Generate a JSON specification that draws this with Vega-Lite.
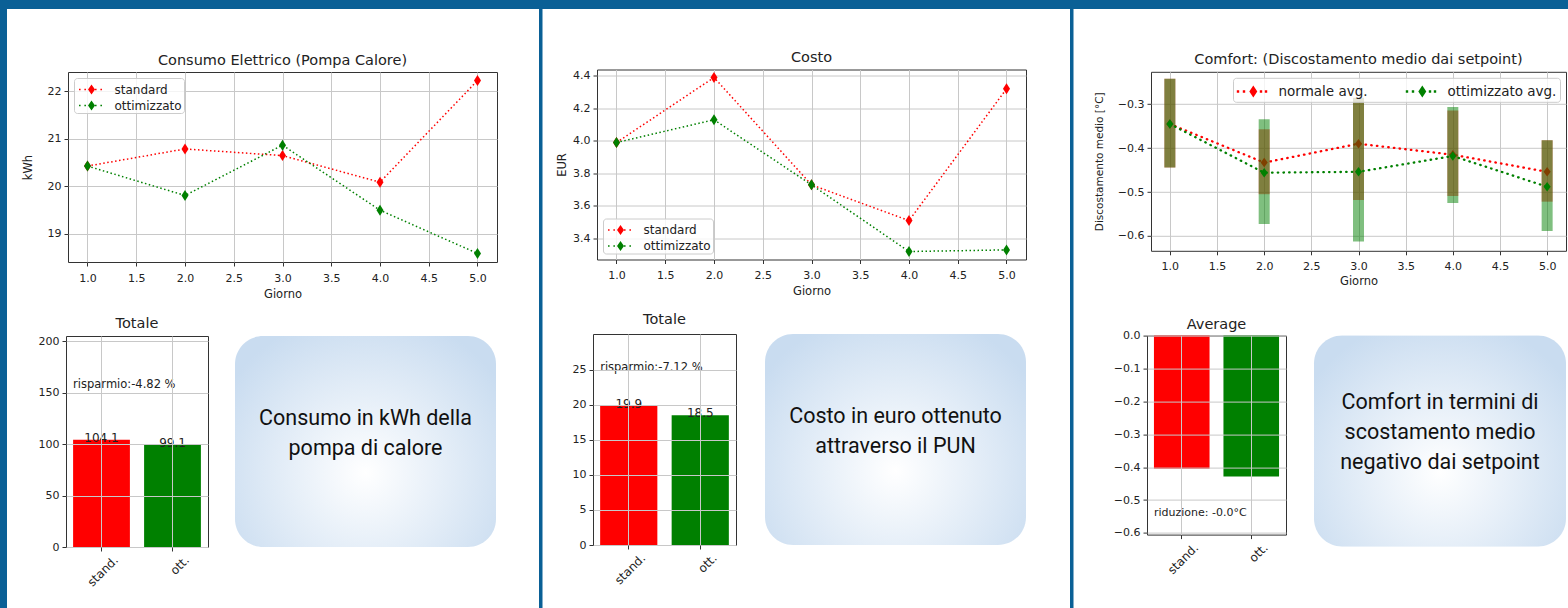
{
"$schema": "https://vega.github.io/schema/vega-lite/v6.json",
"background": "#ffffff",
"padding": 0,
"spacing": 0,
"config": {
  "view": {"stroke": "#333333", "strokeWidth": 1},
  "font": "DejaVu Sans",
  "title": {"font": "DejaVu Sans", "fontSize": 14.5, "fontWeight": "normal", "color": "#222222", "anchor": "middle"},
  "axis": {"labelFont": "DejaVu Sans", "labelFontSize": 11, "labelColor": "#222222", "titleFont": "DejaVu Sans", "titleFontSize": 11.5, "titleFontWeight": "normal", "titleColor": "#222222", "tickColor": "#333333", "tickSize": 4, "labelPadding": 3, "domain": false, "grid": true, "gridColor": "#c8c8c8", "labelFlush": false, "labelOverlap": false},
  "axisX": {"labelPadding": 6},
  "text": {"color": "#222222"}
},
"datasets": {
  "consumo": [
    {"giorno": 1, "serie": "standard", "kWh": 20.43},
    {"giorno": 2, "serie": "standard", "kWh": 20.79},
    {"giorno": 3, "serie": "standard", "kWh": 20.65},
    {"giorno": 4, "serie": "standard", "kWh": 20.09},
    {"giorno": 5, "serie": "standard", "kWh": 22.23},
    {"giorno": 1, "serie": "ottimizzato", "kWh": 20.43},
    {"giorno": 2, "serie": "ottimizzato", "kWh": 19.81},
    {"giorno": 3, "serie": "ottimizzato", "kWh": 20.87},
    {"giorno": 4, "serie": "ottimizzato", "kWh": 19.50},
    {"giorno": 5, "serie": "ottimizzato", "kWh": 18.59}
  ],
  "costo": [
    {"giorno": 1, "serie": "standard", "EUR": 3.99},
    {"giorno": 2, "serie": "standard", "EUR": 4.39},
    {"giorno": 3, "serie": "standard", "EUR": 3.73},
    {"giorno": 4, "serie": "standard", "EUR": 3.51},
    {"giorno": 5, "serie": "standard", "EUR": 4.32},
    {"giorno": 1, "serie": "ottimizzato", "EUR": 3.99},
    {"giorno": 2, "serie": "ottimizzato", "EUR": 4.13},
    {"giorno": 3, "serie": "ottimizzato", "EUR": 3.73},
    {"giorno": 4, "serie": "ottimizzato", "EUR": 3.32},
    {"giorno": 5, "serie": "ottimizzato", "EUR": 3.33}
  ],
  "comfort": [
    {"giorno": 1, "serie": "normale avg.", "avg": -0.345, "lo": -0.444, "hi": -0.242},
    {"giorno": 2, "serie": "normale avg.", "avg": -0.433, "lo": -0.505, "hi": -0.357},
    {"giorno": 3, "serie": "normale avg.", "avg": -0.390, "lo": -0.518, "hi": -0.285},
    {"giorno": 4, "serie": "normale avg.", "avg": -0.415, "lo": -0.509, "hi": -0.314},
    {"giorno": 5, "serie": "normale avg.", "avg": -0.454, "lo": -0.522, "hi": -0.382},
    {"giorno": 1, "serie": "ottimizzato avg.", "avg": -0.345, "lo": -0.444, "hi": -0.242},
    {"giorno": 2, "serie": "ottimizzato avg.", "avg": -0.456, "lo": -0.573, "hi": -0.334},
    {"giorno": 3, "serie": "ottimizzato avg.", "avg": -0.454, "lo": -0.613, "hi": -0.285},
    {"giorno": 4, "serie": "ottimizzato avg.", "avg": -0.418, "lo": -0.525, "hi": -0.306},
    {"giorno": 5, "serie": "ottimizzato avg.", "avg": -0.488, "lo": -0.589, "hi": -0.382}
  ],
  "tot_consumo": [{"cat": "stand.", "valore": 104.1}, {"cat": "ott.", "valore": 99.1}],
  "tot_costo": [{"cat": "stand.", "valore": 19.9}, {"cat": "ott.", "valore": 18.5}],
  "avg_comfort": [{"cat": "stand.", "valore": -0.405}, {"cat": "ott.", "valore": -0.428}]
},
"resolve": {"scale": {"color": "independent"}, "legend": {"color": "independent"}},
"vconcat": [
  {"width": 1568, "height": 9, "view": {"stroke": null}, "data": {"values": [{}]}, "mark": {"type": "rect", "color": "#0a6096"}, "encoding": {}},
  {"spacing": 0,
   "resolve": {"scale": {"color": "independent"}, "legend": {"color": "independent"}},
   "hconcat": [
    {"width": 7, "height": 599, "view": {"stroke": null}, "data": {"values": [{}]}, "mark": {"type": "rect", "color": "#0a6096"}, "encoding": {}},
    {"spacing": 15,
     "resolve": {"scale": {"color": "independent"}, "legend": {"color": "independent"}},
     "vconcat": [
      {"width": 532, "height": 27.5, "view": {"stroke": null}, "data": {"values": [{}]}, "mark": {"type": "rect", "opacity": 0}, "encoding": {}},
      {"spacing": 0,
       "resolve": {"scale": {"color": "independent"}, "legend": {"color": "independent"}},
       "hconcat": [
        {"width": 14, "height": 10, "view": {"stroke": null}, "data": {"values": [{}]}, "mark": {"type": "rect", "opacity": 0}, "encoding": {}},
        {"width": 429, "height": 190,
         "title": {"text": "Consumo Elettrico (Pompa Calore)", "offset": 4},
         "data": {"name": "consumo"},
         "encoding": {
           "x": {"field": "giorno", "type": "quantitative", "scale": {"domain": [0.8, 5.2], "nice": false, "zero": false}, "axis": {"values": [1, 1.5, 2, 2.5, 3, 3.5, 4, 4.5, 5], "format": ".1f", "title": "Giorno", "titlePadding": 5}},
           "y": {"field": "kWh", "type": "quantitative", "scale": {"domain": [18.41, 22.41], "nice": false, "zero": false}, "axis": {"values": [19, 20, 21, 22], "title": "kWh", "titlePadding": 14}}
         },
         "layer": [
          {"transform": [{"filter": "datum.serie === 'standard'"}], "mark": {"type": "line", "color": "#ff0000", "strokeDash": [1.5, 2.5], "strokeWidth": 1.5}},
          {"transform": [{"filter": "datum.serie === 'ottimizzato'"}], "mark": {"type": "line", "color": "#008000", "strokeDash": [1.5, 2.5], "strokeWidth": 1.5}},
          {"mark": {"type": "point", "shape": "M0,-1L0.64,0L0,1L-0.64,0Z", "filled": true, "size": 121, "opacity": 1},
           "encoding": {"color": {"field": "serie", "type": "nominal", "scale": {"domain": ["standard", "ottimizzato"], "range": ["#ff0000", "#008000"]},
             "legend": {"title": null, "orient": "top-left", "offset": 6, "fillColor": "rgba(255,255,255,0.8)", "strokeColor": "#cccccc", "cornerRadius": 3, "padding": 1.5, "rowPadding": 0, "symbolType": "M-0.665,-0.08h0.16v0.16h-0.16z M-0.115,-0.08h0.16v0.16h-0.16z M0.975,-0.08h0.16v0.16h-0.16z M1.53,-0.08h0.16v0.16h-0.16z M0.617,-0.51L0.977,0L0.617,0.51L0.257,0z", "symbolSize": 380, "symbolStrokeWidth": 0, "labelFont": "DejaVu Sans", "labelFontSize": 12, "labelColor": "#222222", "labelOffset": 19}}}}
         ]}
       ]},
      {"spacing": 0,
       "resolve": {"scale": {"color": "independent"}, "legend": {"color": "independent"}},
       "hconcat": [
        {"width": 30, "height": 10, "view": {"stroke": null}, "data": {"values": [{}]}, "mark": {"type": "rect", "opacity": 0}, "encoding": {}},
        {"width": 142, "height": 211,
         "title": {"text": "Totale", "offset": 3.5},
         "encoding": {
           "x": {"field": "cat", "type": "nominal", "sort": null, "scale": {"domain": ["stand.", "ott."], "paddingInner": 0.2, "paddingOuter": 0.1}, "axis": {"title": null, "labelAngle": -45, "labelAlign": "right", "labelBaseline": "top", "labelOffset": 11, "labelPadding": 3, "labelFontSize": 12, "bandPosition": 0.5, "zindex": 1}}
         },
         "layer": [
          {"data": {"name": "tot_consumo"}, "mark": {"type": "bar"},
           "encoding": {
             "y": {"field": "valore", "type": "quantitative", "scale": {"domain": [0, 205], "nice": false}, "axis": {"title": null, "values": [0, 50, 100, 150, 200], "zindex": 1}},
             "color": {"field": "cat", "type": "nominal", "scale": {"domain": ["stand.", "ott."], "range": ["#ff0000", "#008000"]}, "legend": null}}},
          {"data": {"name": "tot_consumo"}, "mark": {"type": "text", "baseline": "alphabetic", "dy": 2, "fontSize": 12},
           "encoding": {
             "y": {"field": "valore", "type": "quantitative", "axis": {"title": null, "values": [0, 50, 100, 150, 200], "zindex": 1}},
             "text": {"field": "valore", "type": "quantitative", "format": ".1f"}}},
          {"data": {"values": [{"cat": "stand.", "testo": "risparmio:-4.82 %"}]}, "mark": {"type": "text", "align": "left", "baseline": "middle", "fontSize": 11.5},
           "encoding": {
             "x": {"field": "cat", "type": "nominal", "sort": null, "bandPosition": 0},
             "y": {"datum": 157, "type": "quantitative", "axis": {"title": null, "values": [0, 50, 100, 150, 200], "zindex": 1}},
             "text": {"field": "testo", "type": "nominal"}}}
         ]},
        {"width": 26, "height": 10, "view": {"stroke": null}, "data": {"values": [{}]}, "mark": {"type": "rect", "opacity": 0}, "encoding": {}},
        {"width": 261, "height": 211, "view": {"stroke": null},
         "data": {"values": [{"testo": "Consumo in kWh della\npompa di calore"}]},
         "layer": [
          {"mark": {"type": "rect", "cornerRadius": 28, "fill": {"gradient": "radial", "x1": 0.5, "y1": 0.62, "r1": 0, "x2": 0.5, "y2": 0.62, "r2": 0.62, "stops": [{"offset": 0, "color": "#ffffff"}, {"offset": 1, "color": "#c9dcf0"}]}}, "encoding": {}},
          {"mark": {"type": "text", "lineBreak": "\n", "font": "Roboto", "fontSize": 21.5, "lineHeight": 30, "align": "center", "baseline": "middle", "dy": -23, "color": "#111111"}, "encoding": {"text": {"field": "testo", "type": "nominal"}}}
         ]}
       ]}
     ]},
    {"width": 3.5, "height": 599, "view": {"stroke": null}, "data": {"values": [{}]}, "mark": {"type": "rect", "color": "#0a6096"}, "encoding": {}},
    {"spacing": 13.5,
     "resolve": {"scale": {"color": "independent"}, "legend": {"color": "independent"}},
     "vconcat": [
      {"width": 526.5, "height": 27, "view": {"stroke": null}, "data": {"values": [{}]}, "mark": {"type": "rect", "opacity": 0}, "encoding": {}},
      {"spacing": 0,
       "resolve": {"scale": {"color": "independent"}, "legend": {"color": "independent"}},
       "hconcat": [
        {"width": 12.5, "height": 10, "view": {"stroke": null}, "data": {"values": [{}]}, "mark": {"type": "rect", "opacity": 0}, "encoding": {}},
        {"width": 429, "height": 190,
         "title": {"text": "Costo", "offset": 4},
         "data": {"name": "costo"},
         "encoding": {
           "x": {"field": "giorno", "type": "quantitative", "scale": {"domain": [0.8, 5.2], "nice": false, "zero": false}, "axis": {"values": [1, 1.5, 2, 2.5, 3, 3.5, 4, 4.5, 5], "format": ".1f", "title": "Giorno", "titlePadding": 5}},
           "y": {"field": "EUR", "type": "quantitative", "scale": {"domain": [3.271, 4.439], "nice": false, "zero": false}, "axis": {"values": [3.4, 3.6, 3.8, 4.0, 4.2, 4.4], "format": ".1f", "title": "EUR", "titlePadding": 5}}
         },
         "layer": [
          {"transform": [{"filter": "datum.serie === 'standard'"}], "mark": {"type": "line", "color": "#ff0000", "strokeDash": [1.5, 2.5], "strokeWidth": 1.5}},
          {"transform": [{"filter": "datum.serie === 'ottimizzato'"}], "mark": {"type": "line", "color": "#008000", "strokeDash": [1.5, 2.5], "strokeWidth": 1.5}},
          {"mark": {"type": "point", "shape": "M0,-1L0.64,0L0,1L-0.64,0Z", "filled": true, "size": 121, "opacity": 1},
           "encoding": {"color": {"field": "serie", "type": "nominal", "scale": {"domain": ["standard", "ottimizzato"], "range": ["#ff0000", "#008000"]},
             "legend": {"title": null, "orient": "bottom-left", "offset": 6, "fillColor": "rgba(255,255,255,0.8)", "strokeColor": "#cccccc", "cornerRadius": 3, "padding": 1.5, "rowPadding": 0, "symbolType": "M-0.665,-0.08h0.16v0.16h-0.16z M-0.115,-0.08h0.16v0.16h-0.16z M0.975,-0.08h0.16v0.16h-0.16z M1.53,-0.08h0.16v0.16h-0.16z M0.617,-0.51L0.977,0L0.617,0.51L0.257,0z", "symbolSize": 380, "symbolStrokeWidth": 0, "labelFont": "DejaVu Sans", "labelFontSize": 12, "labelColor": "#222222", "labelOffset": 19}}}}
         ]}
       ]},
      {"spacing": 0,
       "resolve": {"scale": {"color": "independent"}, "legend": {"color": "independent"}},
       "hconcat": [
        {"width": 27.5, "height": 10, "view": {"stroke": null}, "data": {"values": [{}]}, "mark": {"type": "rect", "opacity": 0}, "encoding": {}},
        {"width": 143, "height": 211,
         "title": {"text": "Totale", "offset": 7},
         "encoding": {
           "x": {"field": "cat", "type": "nominal", "sort": null, "scale": {"domain": ["stand.", "ott."], "paddingInner": 0.2, "paddingOuter": 0.1}, "axis": {"title": null, "labelAngle": -45, "labelAlign": "right", "labelBaseline": "top", "labelOffset": 11, "labelPadding": 3, "labelFontSize": 12, "bandPosition": 0.5, "zindex": 1}}
         },
         "layer": [
          {"data": {"name": "tot_costo"}, "mark": {"type": "bar"},
           "encoding": {
             "y": {"field": "valore", "type": "quantitative", "scale": {"domain": [0, 30.1], "nice": false}, "axis": {"title": null, "values": [0, 5, 10, 15, 20, 25], "zindex": 1}},
             "color": {"field": "cat", "type": "nominal", "scale": {"domain": ["stand.", "ott."], "range": ["#ff0000", "#008000"]}, "legend": null}}},
          {"data": {"name": "tot_costo"}, "mark": {"type": "text", "baseline": "alphabetic", "dy": 2, "fontSize": 12},
           "encoding": {
             "y": {"field": "valore", "type": "quantitative", "axis": {"title": null, "values": [0, 5, 10, 15, 20, 25], "zindex": 1}},
             "text": {"field": "valore", "type": "quantitative", "format": ".1f"}}},
          {"data": {"values": [{"cat": "stand.", "testo": "risparmio:-7.12 %"}]}, "mark": {"type": "text", "align": "left", "baseline": "middle", "fontSize": 11.5},
           "encoding": {
             "x": {"field": "cat", "type": "nominal", "sort": null, "bandPosition": 0},
             "y": {"datum": 25.3, "type": "quantitative", "axis": {"title": null, "values": [0, 5, 10, 15, 20, 25], "zindex": 1}},
             "text": {"field": "testo", "type": "nominal"}}}
         ]},
        {"width": 28, "height": 10, "view": {"stroke": null}, "data": {"values": [{}]}, "mark": {"type": "rect", "opacity": 0}, "encoding": {}},
        {"width": 261, "height": 211, "view": {"stroke": null},
         "data": {"values": [{"testo": "Costo in euro ottenuto\nattraverso il PUN"}]},
         "layer": [
          {"mark": {"type": "rect", "cornerRadius": 28, "fill": {"gradient": "radial", "x1": 0.5, "y1": 0.62, "r1": 0, "x2": 0.5, "y2": 0.62, "r2": 0.62, "stops": [{"offset": 0, "color": "#ffffff"}, {"offset": 1, "color": "#c9dcf0"}]}}, "encoding": {}},
          {"mark": {"type": "text", "lineBreak": "\n", "font": "Roboto", "fontSize": 21.5, "lineHeight": 30, "align": "center", "baseline": "middle", "dy": -23, "color": "#111111"}, "encoding": {"text": {"field": "testo", "type": "nominal"}}}
         ]}
       ]}
     ]},
    {"width": 3.5, "height": 599, "view": {"stroke": null}, "data": {"values": [{}]}, "mark": {"type": "rect", "color": "#0a6096"}, "encoding": {}},
    {"spacing": 27.8,
     "resolve": {"scale": {"color": "independent"}, "legend": {"color": "independent"}},
     "vconcat": [
      {"width": 495.5, "height": 14.1, "view": {"stroke": null}, "data": {"values": [{}]}, "mark": {"type": "rect", "opacity": 0}, "encoding": {}},
      {"spacing": 0,
       "resolve": {"scale": {"color": "independent"}, "legend": {"color": "independent"}},
       "hconcat": [
        {"width": 19, "height": 10, "view": {"stroke": null}, "data": {"values": [{}]}, "mark": {"type": "rect", "opacity": 0}, "encoding": {}},
        {"width": 415, "height": 179,
         "title": {"text": "Comfort: (Discostamento medio dai setpoint)", "offset": 4},
         "data": {"name": "comfort"},
         "encoding": {
           "x": {"field": "giorno", "type": "quantitative", "scale": {"domain": [0.8, 5.2], "nice": false, "zero": false}, "axis": {"values": [1, 1.5, 2, 2.5, 3, 3.5, 4, 4.5, 5], "format": ".1f", "title": "Giorno", "titlePadding": 4}},
           "y": {"field": "avg", "type": "quantitative", "scale": {"domain": [-0.634, -0.226], "nice": false, "zero": false}, "axis": {"values": [-0.6, -0.5, -0.4, -0.3], "format": ".1f", "title": "Discostamento medio [°C]", "titleFontSize": 10.5, "titlePadding": 13}}
         },
         "layer": [
          {"transform": [{"filter": "datum.serie === 'normale avg.'"}],
           "mark": {"type": "line", "color": "#ff0000", "strokeDash": [0.5, 5.2], "strokeCap": "round", "strokeWidth": 2.3}},
          {"transform": [{"filter": "datum.serie === 'normale avg.'"}],
           "mark": {"type": "point", "shape": "M0,-1L0.75,0L0,1L-0.75,0Z", "filled": true, "size": 90, "opacity": 1},
           "encoding": {"color": {"field": "serie", "type": "nominal", "scale": {"domain": ["normale avg.", "ottimizzato avg."], "range": ["#ff0000", "#008000"]},
             "legend": {"title": null, "orient": "top-right", "offset": 6, "direction": "horizontal", "fillColor": "rgba(255,255,255,0.8)", "strokeColor": "#cccccc", "cornerRadius": 3, "padding": 3.5, "columnPadding": 37, "symbolType": "M-0.97,-0.12h0.24v0.24h-0.24z M-0.37,-0.12h0.24v0.24h-0.24z M1.33,-0.12h0.24v0.24h-0.24z M1.83,-0.12h0.24v0.24h-0.24z M0.68,-0.6L1.08,0L0.68,0.6L0.28,0z", "symbolSize": 400, "symbolStrokeWidth": 0, "labelFont": "DejaVu Sans", "labelFontSize": 13.5, "labelColor": "#222222", "labelOffset": 22}}}},
          {"transform": [{"filter": "datum.serie === 'normale avg.'"}],
           "mark": {"type": "rule", "color": "#ff0000", "opacity": 0.5, "strokeWidth": 11},
           "encoding": {"y": {"field": "lo", "type": "quantitative", "axis": {"values": [-0.6, -0.5, -0.4, -0.3], "format": ".1f", "title": "Discostamento medio [°C]", "titleFontSize": 10.5, "titlePadding": 13}}, "y2": {"field": "hi"}}},
          {"transform": [{"filter": "datum.serie === 'ottimizzato avg.'"}],
           "mark": {"type": "line", "color": "#008000", "strokeDash": [0.5, 5.2], "strokeCap": "round", "strokeWidth": 2.3}},
          {"transform": [{"filter": "datum.serie === 'ottimizzato avg.'"}],
           "mark": {"type": "point", "shape": "M0,-1L0.75,0L0,1L-0.75,0Z", "filled": true, "size": 90, "opacity": 1},
           "encoding": {"color": {"field": "serie", "type": "nominal", "scale": {"domain": ["normale avg.", "ottimizzato avg."], "range": ["#ff0000", "#008000"]},
             "legend": {"title": null, "orient": "top-right", "offset": 6, "direction": "horizontal", "fillColor": "rgba(255,255,255,0.8)", "strokeColor": "#cccccc", "cornerRadius": 3, "padding": 3.5, "columnPadding": 37, "symbolType": "M-0.97,-0.12h0.24v0.24h-0.24z M-0.37,-0.12h0.24v0.24h-0.24z M1.33,-0.12h0.24v0.24h-0.24z M1.83,-0.12h0.24v0.24h-0.24z M0.68,-0.6L1.08,0L0.68,0.6L0.28,0z", "symbolSize": 400, "symbolStrokeWidth": 0, "labelFont": "DejaVu Sans", "labelFontSize": 13.5, "labelColor": "#222222", "labelOffset": 22}}}},
          {"transform": [{"filter": "datum.serie === 'ottimizzato avg.'"}],
           "mark": {"type": "rule", "color": "#008000", "opacity": 0.5, "strokeWidth": 11},
           "encoding": {"y": {"field": "lo", "type": "quantitative", "axis": {"values": [-0.6, -0.5, -0.4, -0.3], "format": ".1f", "title": "Discostamento medio [°C]", "titleFontSize": 10.5, "titlePadding": 13}}, "y2": {"field": "hi"}}}
         ]}
       ]},
      {"spacing": 0,
       "resolve": {"scale": {"color": "independent"}, "legend": {"color": "independent"}},
       "hconcat": [
        {"width": 37.8, "height": 10, "view": {"stroke": null}, "data": {"values": [{}]}, "mark": {"type": "rect", "opacity": 0}, "encoding": {}},
        {"width": 139, "height": 199,
         "title": {"text": "Average", "offset": -2.5},
         "encoding": {
           "x": {"field": "cat", "type": "nominal", "sort": null, "scale": {"domain": ["stand.", "ott."], "paddingInner": 0.2, "paddingOuter": 0.1}, "axis": {"title": null, "labelAngle": -45, "labelAlign": "right", "labelBaseline": "top", "labelOffset": 11, "labelPadding": 3, "labelFontSize": 12, "bandPosition": 0.5, "zindex": 1}}
         },
         "layer": [
          {"data": {"name": "avg_comfort"}, "mark": {"type": "bar"},
           "encoding": {
             "y": {"field": "valore", "type": "quantitative", "scale": {"domain": [-0.605, 0], "nice": false, "zero": false}, "axis": {"title": null, "values": [0, -0.1, -0.2, -0.3, -0.4, -0.5, -0.6], "format": ".1f", "zindex": 1}},
             "color": {"field": "cat", "type": "nominal", "scale": {"domain": ["stand.", "ott."], "range": ["#ff0000", "#008000"]}, "legend": null}}},
          {"data": {"values": [{"cat": "stand.", "testo": "riduzione: -0.0°C"}]}, "mark": {"type": "text", "align": "left", "baseline": "middle", "fontSize": 11},
           "encoding": {
             "x": {"field": "cat", "type": "nominal", "sort": null, "bandPosition": 0},
             "y": {"datum": -0.539, "type": "quantitative", "axis": {"title": null, "values": [0, -0.1, -0.2, -0.3, -0.4, -0.5, -0.6], "format": ".1f", "zindex": 1}},
             "text": {"field": "testo", "type": "nominal"}}}
         ]},
        {"width": 27, "height": 10, "view": {"stroke": null}, "data": {"values": [{}]}, "mark": {"type": "rect", "opacity": 0}, "encoding": {}},
        {"width": 252, "height": 211, "view": {"stroke": null},
         "data": {"values": [{"testo": "Comfort in termini di\nscostamento medio\nnegativo dai setpoint"}]},
         "layer": [
          {"mark": {"type": "rect", "cornerRadius": 28, "fill": {"gradient": "radial", "x1": 0.5, "y1": 0.62, "r1": 0, "x2": 0.5, "y2": 0.62, "r2": 0.62, "stops": [{"offset": 0, "color": "#ffffff"}, {"offset": 1, "color": "#c9dcf0"}]}}, "encoding": {}},
          {"mark": {"type": "text", "lineBreak": "\n", "font": "Roboto", "fontSize": 21.5, "lineHeight": 30, "align": "center", "baseline": "middle", "dy": -38.3, "color": "#111111"}, "encoding": {"text": {"field": "testo", "type": "nominal"}}}
         ]}
       ]}
     ]}
   ]}
]
}
